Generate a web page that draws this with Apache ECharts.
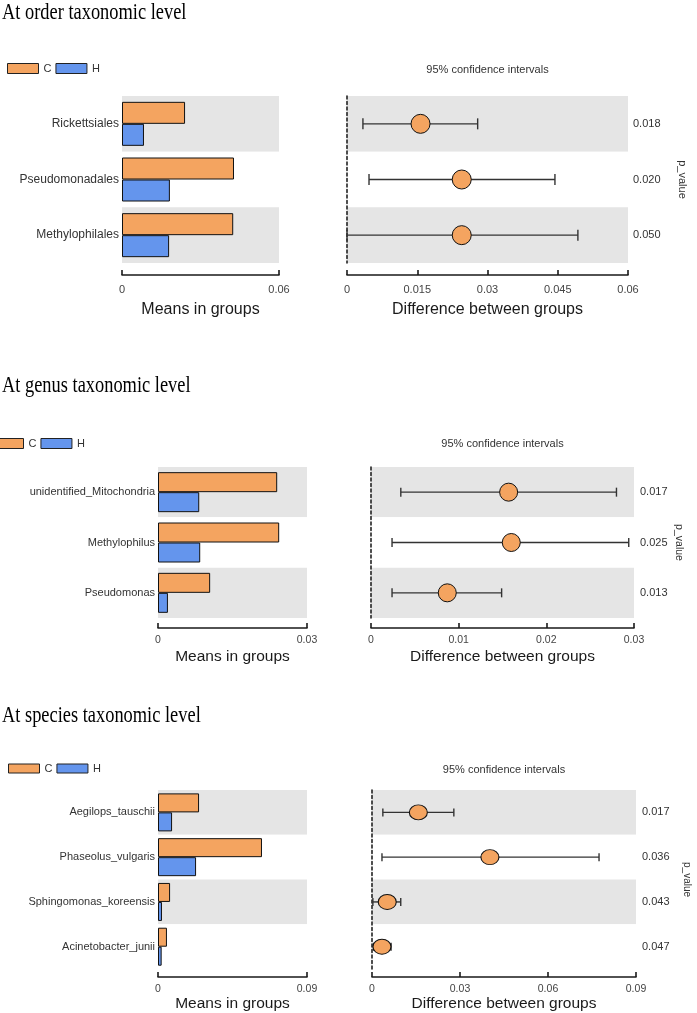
<!DOCTYPE html>
<html><head><meta charset="utf-8">
<script src="https://cdn.jsdelivr.net/npm/echarts@6/dist/echarts.min.js"></script>
<style>html,body{margin:0;padding:0;background:#fff}#c{width:697px;height:1013px}</style>
</head><body><div id="c"></div>
<script>
// ---------- DATA ----------
const orderCats  = ['Rickettsiales', 'Pseudomonadales', 'Methylophilales'];
const orderMeanC = [0.0241, 0.0428, 0.0425];
const orderMeanH = [0.0084, 0.0183, 0.0180];
const orderDiff  = [0.0157, 0.0245, 0.0245];
const orderLow   = [0.0034, 0.0047, 0.0000];
const orderHigh  = [0.0279, 0.0444, 0.0493];
const orderP     = ['0.018', '0.020', '0.050'];

const genusCats  = ['unidentified_Mitochondria', 'Methylophilus', 'Pseudomonas'];
const genusMeanC = [0.0240, 0.0244, 0.0105];
const genusMeanH = [0.0083, 0.0085, 0.0020];
const genusDiff  = [0.0157, 0.0160, 0.0087];
const genusLow   = [0.0034, 0.0024, 0.0024];
const genusHigh  = [0.0280, 0.0294, 0.0149];
const genusP     = ['0.017', '0.025', '0.013'];

const speciesCats  = ['Aegilops_tauschii', 'Phaseolus_vulgaris', 'Sphingomonas_koreensis', 'Acinetobacter_junii'];
const speciesMeanC = [0.0248, 0.0628, 0.0073, 0.0054];
const speciesMeanH = [0.0085, 0.0230, 0.0024, 0.0022];
const speciesDiff  = [0.0158, 0.0402, 0.0052, 0.0034];
const speciesLow   = [0.0037, 0.0034, 0.0003, 0.0005];
const speciesHigh  = [0.0279, 0.0774, 0.0098, 0.0065];
const speciesP     = ['0.017', '0.036', '0.043', '0.047'];

const titles = ['At order taxonomic level', 'At genus taxonomic level', 'At species taxonomic level'];
const groupNames = ['C', 'H'];

// ---------- STYLE / LAYOUT ----------
const ORANGE = '#F4A460', BLUE = '#6495ED', GRAY = '#E5E5E5';
const FONT = 'Liberation Sans';
const panels = [
  {cats: orderCats, c: orderMeanC, h: orderMeanH, d: orderDiff, lo: orderLow, hi: orderHigh, p: orderP,
   meanMax: 0.06, diffMax: 0.06, diffStep: 0.015,
   L: {x: 122, w: 157}, R: {x: 347, w: 281}, top: 96, ht: 167, off: 12, lblMargin: 9, tickFont: 11,
   nameGap: 27, nameFont: 16, catFont: 12, barW: 22, capH: 11, sym: [19, 19], pGap: 49, pFont: 11, pMargin: 5,
   legend: {left: 7, top: 63, h: 10}, titleY: 12.5, ciY: 70},
  {cats: genusCats, c: genusMeanC, h: genusMeanH, d: genusDiff, lo: genusLow, hi: genusHigh, p: genusP,
   meanMax: 0.03, diffMax: 0.03, diffStep: 0.01,
   L: {x: 158, w: 149}, R: {x: 371, w: 263}, top: 467, ht: 151, off: 10, lblMargin: 7, tickFont: 10.5,
   nameGap: 21, nameFont: 15.5, catFont: 11, barW: 20, capH: 9, sym: [18, 18], pGap: 39, pFont: 10.5, pMargin: 6,
   legend: {left: -8, top: 438, h: 10}, titleY: 385.5, ciY: 444},
  {cats: speciesCats, c: speciesMeanC, h: speciesMeanH, d: speciesDiff, lo: speciesLow, hi: speciesHigh, p: speciesP,
   meanMax: 0.09, diffMax: 0.09, diffStep: 0.03,
   L: {x: 158, w: 149}, R: {x: 372, w: 264}, top: 790, ht: 180, off: 8, lblMargin: 7, tickFont: 10.5,
   nameGap: 18, nameFont: 15.5, catFont: 11, barW: 19, capH: 8, sym: [18, 15], pGap: 46, pFont: 10, pMargin: 6,
   legend: {left: 8, top: 763, h: 9}, titleY: 715.5, ciY: 770}
];

const grid = [], xAxis = [], yAxis = [], series = [], legend = [], graphic = [];
const axisCol = '#1a1a1a';

panels.forEach((P, k) => {
  const gL = grid.length;
  grid.push({left: P.L.x, top: P.top, width: P.L.w, height: P.ht, containLabel: false});
  grid.push({left: P.R.x, top: P.top, width: P.R.w, height: P.ht, containLabel: false});
  const xCommon = {
    type: 'value', min: 0, offset: P.off,
    axisLine: {show: true, onZero: false, lineStyle: {color: axisCol, width: 1.6}},
    axisTick: {show: true, inside: true, length: 5, lineStyle: {color: axisCol, width: 1.6}},
    axisLabel: {fontSize: P.tickFont, color: '#444', margin: P.lblMargin, fontFamily: FONT},
    splitLine: {show: false},
    nameLocation: 'middle', nameGap: P.nameGap,
    nameTextStyle: {fontSize: P.nameFont, color: axisCol, fontFamily: FONT}
  };
  const xL = xAxis.length;
  xAxis.push(Object.assign({}, xCommon, {gridIndex: gL, max: P.meanMax, interval: P.meanMax, name: 'Means in groups'}));
  xAxis.push(Object.assign({}, xCommon, {gridIndex: gL + 1, max: P.diffMax, interval: P.diffStep, name: 'Difference between groups'}));
  const splitArea = {show: true, areaStyle: {color: [GRAY, '#ffffff']}};
  const yL = yAxis.length;
  yAxis.push({gridIndex: gL, type: 'category', data: P.cats, inverse: true,
    axisLine: {show: false}, axisTick: {show: false}, splitLine: {show: false}, splitArea,
    axisLabel: {fontSize: P.catFont, color: '#333', margin: 3, fontFamily: FONT}});
  yAxis.push({gridIndex: gL + 1, type: 'category', data: P.cats, inverse: true,
    axisLine: {show: true, onZero: false, lineStyle: {color: '#222', width: 1.6, type: [3, 2.5]}},
    axisTick: {show: false}, axisLabel: {show: false}, splitLine: {show: false}, splitArea});
  yAxis.push({gridIndex: gL + 1, type: 'category', data: P.p, inverse: true, position: 'right',
    axisLine: {show: false}, axisTick: {show: false}, splitLine: {show: false},
    axisLabel: {fontSize: 11, color: '#333', margin: P.pMargin, fontFamily: FONT},
    name: 'p_value', nameLocation: 'middle', nameRotate: -90, nameGap: P.pGap,
    nameTextStyle: {fontSize: P.pFont, color: '#333', fontFamily: FONT}});

  const barStyle = (col) => ({color: col, borderColor: '#111', borderWidth: 1});
  series.push({type: 'bar', name: groupNames[0], xAxisIndex: xL, yAxisIndex: yL, data: P.c,
    barWidth: P.barW, barGap: '0%', itemStyle: barStyle(ORANGE)});
  series.push({type: 'bar', name: groupNames[1], xAxisIndex: xL, yAxisIndex: yL, data: P.h,
    barWidth: P.barW, barGap: '0%', itemStyle: barStyle(BLUE)});
  const capH = P.capH;
  series.push({type: 'custom', name: 'ci' + k, xAxisIndex: xL + 1, yAxisIndex: yL + 1, z: 3,
    data: P.cats.map((c, i) => [P.lo[i], P.hi[i], i]),
    encode: {x: [0, 1], y: 2},
    renderItem: function (params, api) {
      const idx = api.value(2);
      const a = api.coord([api.value(0), idx]);
      const b = api.coord([api.value(1), idx]);
      const st = {stroke: '#333', lineWidth: 1.4};
      return {type: 'group', children: [
        {type: 'line', shape: {x1: a[0], y1: a[1], x2: b[0], y2: b[1]}, style: st},
        {type: 'line', shape: {x1: a[0], y1: a[1] - capH / 2, x2: a[0], y2: a[1] + capH / 2}, style: st},
        {type: 'line', shape: {x1: b[0], y1: b[1] - capH / 2, x2: b[0], y2: b[1] + capH / 2}, style: st}
      ]};
    }});
  series.push({type: 'scatter', name: 'diff' + k, xAxisIndex: xL + 1, yAxisIndex: yL + 1, z: 4,
    symbol: 'circle', symbolSize: P.sym,
    data: P.cats.map((c, i) => [P.d[i], i]),
    itemStyle: {color: ORANGE, borderColor: '#111', borderWidth: 1, opacity: 1}});

  legend.push({data: groupNames, left: P.legend.left, top: P.legend.top, orient: 'horizontal',
    itemWidth: 31, itemHeight: P.legend.h, itemGap: 4, icon: 'rect', padding: 0,
    selectedMode: false,
    itemStyle: {borderWidth: 1, borderColor: '#222'},
    textStyle: {fontSize: 11, color: '#333', fontFamily: FONT, padding: [0, 0, 0, 0]}});

  graphic.push({type: 'text', x: 2, y: P.titleY, scaleX: 0.8, scaleY: 1,
    style: {text: titles[k], font: '23px "Liberation Serif"', fill: '#000', verticalAlign: 'middle', align: 'left'}});
  graphic.push({type: 'text', x: P.R.x + P.R.w / 2, y: P.ciY,
    style: {text: '95% confidence intervals', font: '11px "Liberation Sans"', fill: '#333', verticalAlign: 'middle', align: 'center'}});
});

const chart = echarts.init(document.getElementById('c'), null, {renderer: 'canvas'});
chart.setOption({
  animation: false,
  backgroundColor: '#fff',
  textStyle: {fontFamily: FONT},
  grid, xAxis, yAxis, series, legend, graphic,
  tooltip: {show: false}
});
</script>
</body></html>
